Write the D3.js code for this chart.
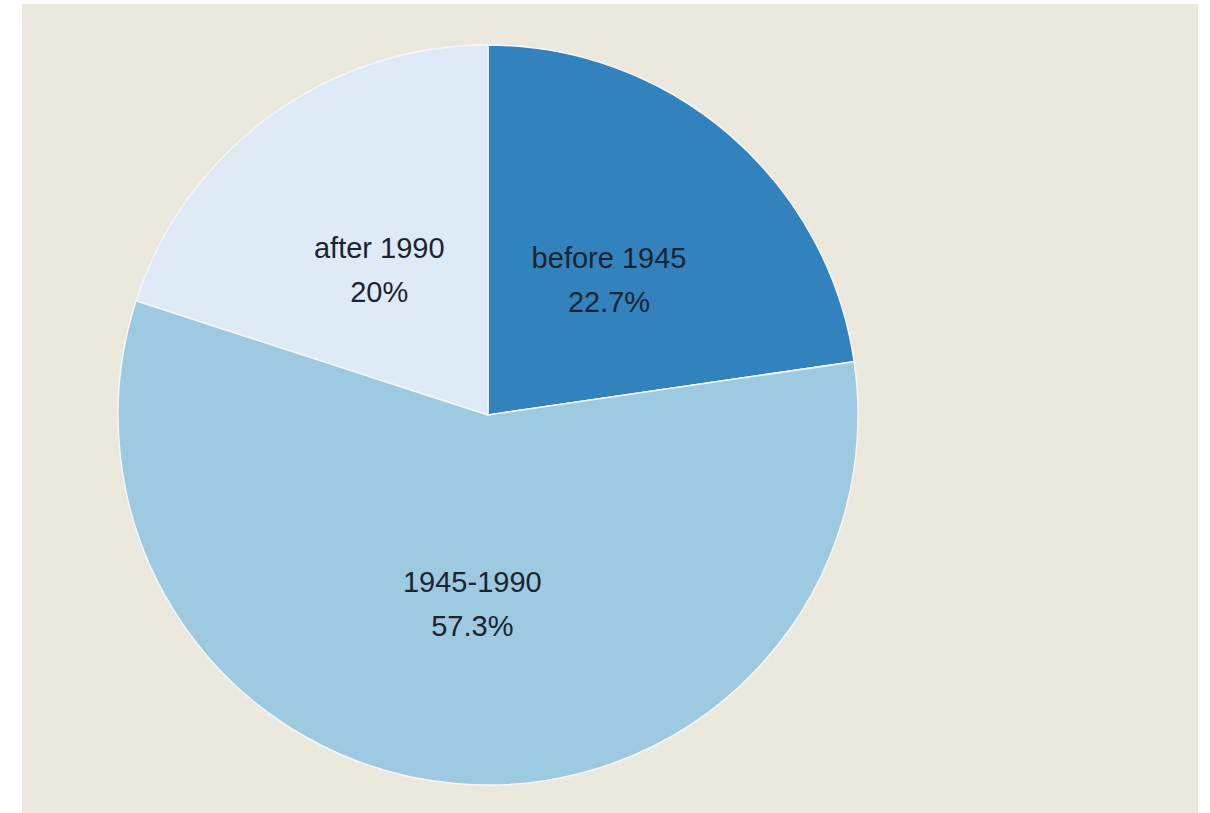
<!DOCTYPE html>
<html>
<head>
<meta charset="utf-8">
<script src="https://cdn.jsdelivr.net/npm/d3@7"></script>
<style>
  html, body { margin: 0; padding: 0; background: #ffffff; }
  svg { display: block; }
</style>
</head>
<body>
<svg id="chart" width="1210" height="813"></svg>
<script>
const categories = ["before 1945", "1945-1990", "after 1990"];
const values = [22.7, 57.3, 20];
const valueLabels = ["22.7%", "57.3%", "20%"];
const colors = ["#3182bd", "#9ecae1", "#deebf7"];

const svg = d3.select("#chart");
svg.append("rect")
  .attr("x", 22).attr("y", 4)
  .attr("width", 1176).attr("height", 809)
  .attr("fill", "#ebe8de");

const cx = 488, cy = 415, r = 370;
const data = categories.map((c, i) => ({ cat: c, value: values[i], label: valueLabels[i], color: colors[i] }));
const pie = d3.pie().value(d => d.value).sort(null);
const arc = d3.arc().innerRadius(0).outerRadius(r);
const g = svg.append("g").attr("transform", `translate(${cx},${cy})`);
const arcs = pie(data);

g.selectAll("path.slice").data(arcs).join("path")
  .attr("class", "slice")
  .attr("d", arc)
  .attr("fill", d => d.data.color)
  .attr("stroke", "#f4f6f8")
  .attr("stroke-width", 1.5);

const labels = g.selectAll("g.lbl").data(arcs).join("g")
  .attr("class", "lbl")
  .attr("transform", d => { const c = arc.centroid(d); return `translate(${c[0]},${c[1]})`; });

labels.append("text")
  .attr("text-anchor", "middle")
  .attr("y", -7)
  .attr("font-family", "Arial, 'Liberation Sans', sans-serif")
  .attr("font-size", 29)
  .attr("fill", "#1c2430")
  .text(d => d.data.cat);
labels.append("text")
  .attr("text-anchor", "middle")
  .attr("y", 37)
  .attr("font-family", "Arial, 'Liberation Sans', sans-serif")
  .attr("font-size", 29)
  .attr("fill", "#1c2430")
  .text(d => d.data.label);
</script>
</body>
</html>
